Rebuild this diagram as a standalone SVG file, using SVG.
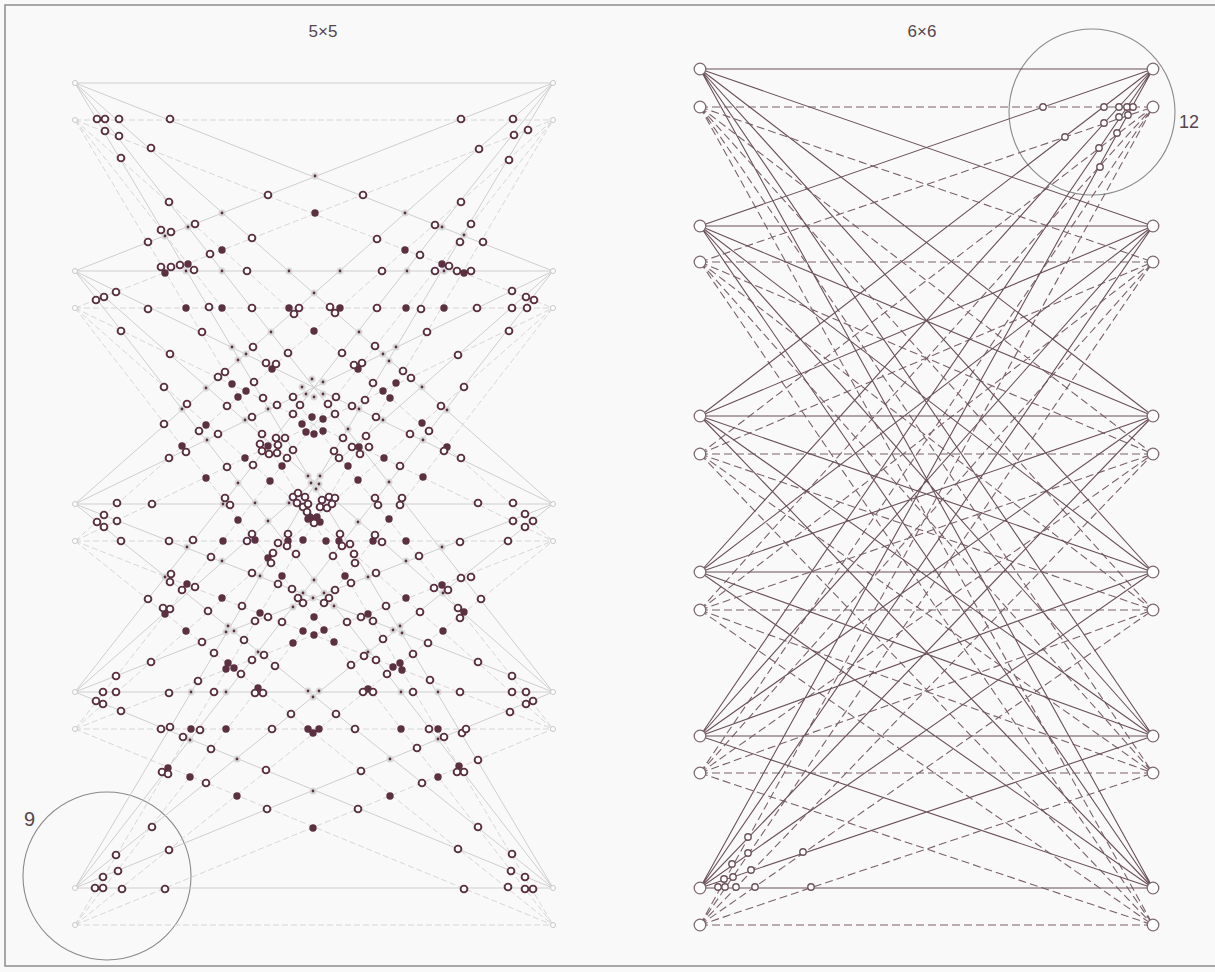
<svg xmlns="http://www.w3.org/2000/svg" xmlns:xlink="http://www.w3.org/1999/xlink" width="1215" height="972" viewBox="0 0 1215 972">
<style>
.lbl{font-family:"Liberation Sans",Arial,sans-serif;fill:#55474c}
.la{fill:none;stroke:#c9c9c9;stroke-width:0.9}
.lb{fill:none;stroke:#d2d2d2;stroke-width:0.9;stroke-dasharray:6 3}
.ra{fill:none;stroke:#6b5159;stroke-width:1.1}
.rb{fill:none;stroke:#7a6268;stroke-width:1.1;stroke-dasharray:8 4}
.n5{fill:#fff;stroke:#c8c8c8;stroke-width:1}
.n6{fill:#fff;stroke:#7d6a70;stroke-width:1.3}
.ring{fill:none;stroke:#8a8a8a;stroke-width:1.1}
</style>
<defs>
<circle id="o" r="3.4" fill="#fff" stroke="#5b3040" stroke-width="1.9"/>
<circle id="q" r="3.2" fill="#fff" stroke="#6b5159" stroke-width="1.4"/>
</defs>
<rect x="0" y="0" width="1215" height="972" fill="#f9f9f9"/>
<rect x="5" y="5" width="1216" height="961" fill="none" stroke="#8c8c8c" stroke-width="1.5"/>
<text class="lbl" x="323" y="37" font-size="17" text-anchor="middle">5×5</text>
<text class="lbl" x="922" y="37" font-size="17" text-anchor="middle">6×6</text>
<text class="lbl" x="24" y="826" font-size="20">9</text>
<text class="lbl" x="1179" y="128" font-size="18">12</text>
<circle class="ring" cx="107" cy="876" r="84"/>
<circle class="ring" cx="1092" cy="112" r="83"/>
<g id="connectors">
<path class="la" d="M75 83L553 83M75 83L553 271M75 83L553 504M75 83L553 692M75 83L553 888M75 271L553 83M75 271L553 271M75 271L553 504M75 271L553 692M75 271L553 888M75 504L553 83M75 504L553 271M75 504L553 504M75 504L553 692M75 504L553 888M75 692L553 83M75 692L553 271M75 692L553 504M75 692L553 692M75 692L553 888M75 888L553 83M75 888L553 271M75 888L553 504M75 888L553 692M75 888L553 888"/>
<path class="lb" d="M75 120L553 120M75 120L553 308M75 120L553 541M75 120L553 729M75 120L553 925M75 308L553 120M75 308L553 308M75 308L553 541M75 308L553 729M75 308L553 925M75 541L553 120M75 541L553 308M75 541L553 541M75 541L553 729M75 541L553 925M75 729L553 120M75 729L553 308M75 729L553 541M75 729L553 729M75 729L553 925M75 925L553 120M75 925L553 308M75 925L553 541M75 925L553 729M75 925L553 925"/>
<path class="rb" d="M700 107L1153 107M700 107L1153 262M700 107L1153 454M700 107L1153 610M700 107L1153 773M700 107L1153 925M700 262L1153 107M700 262L1153 262M700 262L1153 454M700 262L1153 610M700 262L1153 773M700 262L1153 925M700 454L1153 107M700 454L1153 262M700 454L1153 454M700 454L1153 610M700 454L1153 773M700 454L1153 925M700 610L1153 107M700 610L1153 262M700 610L1153 454M700 610L1153 610M700 610L1153 773M700 610L1153 925M700 773L1153 107M700 773L1153 262M700 773L1153 454M700 773L1153 610M700 773L1153 773M700 773L1153 925M700 925L1153 107M700 925L1153 262M700 925L1153 454M700 925L1153 610M700 925L1153 773M700 925L1153 925"/>
<path class="ra" d="M700 69L1153 69M700 69L1153 226M700 69L1153 416M700 69L1153 572M700 69L1153 736M700 69L1153 888M700 226L1153 69M700 226L1153 226M700 226L1153 416M700 226L1153 572M700 226L1153 736M700 226L1153 888M700 416L1153 69M700 416L1153 226M700 416L1153 416M700 416L1153 572M700 416L1153 736M700 416L1153 888M700 572L1153 69M700 572L1153 226M700 572L1153 416M700 572L1153 572M700 572L1153 736M700 572L1153 888M700 736L1153 69M700 736L1153 226M700 736L1153 416M700 736L1153 572M700 736L1153 736M700 736L1153 888M700 888L1153 69M700 888L1153 226M700 888L1153 416M700 888L1153 572M700 888L1153 736M700 888L1153 888"/>
</g>
<g id="crossings5">
<path fill="none" stroke="#d8d8d8" stroke-width="7" stroke-linecap="round" d="M315 176h0M222 213h0M405 213h0M188 227h0M165 236h0M442 227h0M464 235h0M186 271h0M222 271h0M289 271h0M340 271h0M407 271h0M444 271h0M314 293h0M271 332h0M359 332h0M232 347h0M246 354h0M238 360h0M206 388h0M182 409h0M268 409h0M245 420h0M207 440h0M238 483h0M223 504h0M255 503h0M289 503h0M268 521h0M396 347h0M383 354h0M389 361h0M422 387h0M312 379h0M323 382h0M302 387h0M306 394h0M314 397h0M323 394h0M359 409h0M447 410h0M383 420h0M348 429h0M423 440h0M389 482h0M308 476h0M320 476h0M311 483h0M319 484h0M316 489h0M358 522h0M187 547h0M222 561h0M165 577h0M260 576h0M293 607h0M228 626h0M226 632h0M234 631h0M258 652h0M191 692h0M226 692h0M406 561h0M442 547h0M314 580h0M368 577h0M303 593h0M313 598h0M324 593h0M334 606h0M443 593h0M393 630h0M400 626h0M402 633h0M368 652h0M308 691h0M319 691h0M313 697h0M401 692h0M438 692h0M190 740h0M237 759h0M438 739h0M390 759h0M313 791h0"/>
<path fill="none" stroke="#5b3040" stroke-width="2.8" stroke-linecap="round" d="M315 176h0M222 213h0M405 213h0M188 227h0M165 236h0M442 227h0M464 235h0M186 271h0M222 271h0M289 271h0M340 271h0M407 271h0M444 271h0M314 293h0M271 332h0M359 332h0M232 347h0M246 354h0M238 360h0M206 388h0M182 409h0M268 409h0M245 420h0M207 440h0M238 483h0M223 504h0M255 503h0M289 503h0M268 521h0M396 347h0M383 354h0M389 361h0M422 387h0M312 379h0M323 382h0M302 387h0M306 394h0M314 397h0M323 394h0M359 409h0M447 410h0M383 420h0M348 429h0M423 440h0M389 482h0M308 476h0M320 476h0M311 483h0M319 484h0M316 489h0M358 522h0M187 547h0M222 561h0M165 577h0M260 576h0M293 607h0M228 626h0M226 632h0M234 631h0M258 652h0M191 692h0M226 692h0M406 561h0M442 547h0M314 580h0M368 577h0M303 593h0M313 598h0M324 593h0M334 606h0M443 593h0M393 630h0M400 626h0M402 633h0M368 652h0M308 691h0M319 691h0M313 697h0M401 692h0M438 692h0M190 740h0M237 759h0M438 739h0M390 759h0M313 791h0"/>
<path fill="none" stroke="#5b3040" stroke-width="7.4" stroke-linecap="round" d="M315 213h0M222 250h0M405 250h0M165 273h0M188 264h0M442 264h0M464 273h0M186 308h0M222 308h0M289 308h0M340 308h0M406 308h0M444 308h0M314 331h0M272 369h0M232 384h0M246 391h0M238 397h0M302 424h0M206 425h0M268 446h0M182 446h0M245 458h0M282 466h0M206 478h0M270 481h0M238 520h0M358 369h0M396 383h0M383 391h0M390 398h0M312 417h0M323 419h0M306 432h0M314 434h0M323 431h0M422 423h0M359 447h0M447 447h0M384 458h0M348 466h0M423 477h0M358 480h0M389 519h0M310 517h0M313 519h0M317 517h0M320 522h0M308 519h0M223 541h0M255 540h0M288 541h0M303 540h0M268 558h0M282 576h0M187 584h0M222 598h0M165 614h0M260 613h0M186 631h0M303 631h0M293 643h0M228 663h0M226 669h0M234 668h0M258 688h0M191 729h0M226 729h0M326 541h0M339 541h0M373 541h0M406 541h0M345 576h0M406 598h0M442 585h0M464 612h0M314 617h0M368 614h0M443 631h0M314 635h0M324 630h0M334 642h0M393 667h0M400 663h0M402 670h0M368 689h0M308 729h0M313 733h0M319 729h0M401 729h0M438 729h0M168 768h0M190 777h0M237 796h0M459 766h0M438 777h0M390 796h0M313 828h0"/>
<use href="#o" x="97" y="119"/><use href="#o" x="105" y="119"/><use href="#o" x="119" y="119"/><use href="#o" x="170" y="119"/><use href="#o" x="461" y="119"/><use href="#o" x="513" y="119"/>
<use href="#o" x="105" y="131"/><use href="#o" x="119" y="136"/><use href="#o" x="528" y="130"/><use href="#o" x="514" y="135"/>
<use href="#o" x="151" y="148"/><use href="#o" x="479" y="149"/><use href="#o" x="121" y="158"/><use href="#o" x="509" y="160"/>
<use href="#o" x="268" y="195"/><use href="#o" x="363" y="195"/><use href="#o" x="169" y="202"/><use href="#o" x="461" y="202"/>
<use href="#o" x="195" y="224"/><use href="#o" x="161" y="230"/><use href="#o" x="171" y="232"/><use href="#o" x="435" y="225"/><use href="#o" x="471" y="224"/><use href="#o" x="460" y="242"/><use href="#o" x="483" y="242"/>
<use href="#o" x="148" y="242"/><use href="#o" x="252" y="238"/><use href="#o" x="377" y="239"/><use href="#o" x="210" y="254"/><use href="#o" x="420" y="255"/>
<use href="#o" x="161" y="267"/><use href="#o" x="171" y="267"/><use href="#o" x="180" y="265"/><use href="#o" x="194" y="270"/><use href="#o" x="247" y="271"/><use href="#o" x="382" y="271"/><use href="#o" x="435" y="271"/><use href="#o" x="449" y="266"/><use href="#o" x="457" y="271"/><use href="#o" x="471" y="271"/>
<use href="#o" x="116" y="292"/><use href="#o" x="104" y="297"/><use href="#o" x="96" y="300"/><use href="#o" x="512" y="291"/><use href="#o" x="526" y="297"/><use href="#o" x="534" y="300"/>
<use href="#o" x="148" y="309"/><use href="#o" x="209" y="307"/><use href="#o" x="252" y="308"/><use href="#o" x="299" y="308"/><use href="#o" x="294" y="314"/><use href="#o" x="330" y="307"/><use href="#o" x="335" y="313"/><use href="#o" x="377" y="308"/><use href="#o" x="421" y="309"/><use href="#o" x="477" y="308"/><use href="#o" x="512" y="308"/><use href="#o" x="527" y="308"/>
<use href="#o" x="121" y="331"/><use href="#o" x="202" y="332"/><use href="#o" x="427" y="332"/><use href="#o" x="509" y="331"/>
<use href="#o" x="253" y="347"/><use href="#o" x="170" y="354"/><use href="#o" x="288" y="353"/><use href="#o" x="266" y="363"/><use href="#o" x="276" y="364"/>
<use href="#o" x="225" y="372"/><use href="#o" x="218" y="377"/><use href="#o" x="254" y="382"/><use href="#o" x="164" y="387"/><use href="#o" x="263" y="398"/><use href="#o" x="293" y="397"/><use href="#o" x="187" y="404"/><use href="#o" x="227" y="406"/><use href="#o" x="277" y="405"/><use href="#o" x="300" y="405"/><use href="#o" x="293" y="414"/><use href="#o" x="252" y="417"/>
<use href="#o" x="164" y="424"/><use href="#o" x="199" y="431"/><use href="#o" x="218" y="434"/>
<use href="#o" x="262" y="434"/><use href="#o" x="276" y="438"/><use href="#o" x="285" y="438"/><use href="#o" x="260" y="444"/><use href="#o" x="278" y="445"/><use href="#o" x="262" y="451"/><use href="#o" x="269" y="454"/><use href="#o" x="277" y="453"/><use href="#o" x="293" y="450"/><use href="#o" x="186" y="452"/>
<use href="#o" x="169" y="458"/><use href="#o" x="287" y="458"/><use href="#o" x="227" y="467"/><use href="#o" x="253" y="465"/>
<use href="#o" x="117" y="503"/><use href="#o" x="152" y="504"/><use href="#o" x="225" y="498"/><use href="#o" x="230" y="505"/>
<use href="#o" x="104" y="515"/><use href="#o" x="97" y="522"/><use href="#o" x="104" y="527"/><use href="#o" x="117" y="521"/>
<use href="#o" x="375" y="346"/><use href="#o" x="342" y="353"/><use href="#o" x="458" y="355"/><use href="#o" x="354" y="365"/><use href="#o" x="362" y="363"/>
<use href="#o" x="403" y="371"/><use href="#o" x="411" y="378"/><use href="#o" x="373" y="383"/><use href="#o" x="464" y="387"/><use href="#o" x="365" y="400"/><use href="#o" x="336" y="397"/>
<use href="#o" x="328" y="404"/><use href="#o" x="335" y="414"/><use href="#o" x="352" y="406"/><use href="#o" x="441" y="406"/><use href="#o" x="376" y="417"/>
<use href="#o" x="429" y="431"/><use href="#o" x="410" y="434"/><use href="#o" x="343" y="438"/><use href="#o" x="366" y="436"/>
<use href="#o" x="334" y="451"/><use href="#o" x="339" y="458"/><use href="#o" x="352" y="447"/><use href="#o" x="369" y="447"/><use href="#o" x="360" y="454"/><use href="#o" x="444" y="451"/><use href="#o" x="461" y="458"/><use href="#o" x="400" y="466"/>
<use href="#o" x="375" y="498"/><use href="#o" x="378" y="505"/><use href="#o" x="402" y="498"/><use href="#o" x="400" y="505"/><use href="#o" x="478" y="503"/><use href="#o" x="513" y="503"/>
<use href="#o" x="525" y="514"/><use href="#o" x="533" y="521"/><use href="#o" x="513" y="521"/><use href="#o" x="525" y="527"/>
<use href="#o" x="293" y="497"/><use href="#o" x="298" y="493"/><use href="#o" x="305" y="497"/><use href="#o" x="297" y="503"/><use href="#o" x="303" y="507"/><use href="#o" x="308" y="504"/><use href="#o" x="307" y="512"/><use href="#o" x="314" y="523"/><use href="#o" x="322" y="500"/><use href="#o" x="329" y="497"/><use href="#o" x="335" y="498"/><use href="#o" x="320" y="507"/><use href="#o" x="327" y="508"/><use href="#o" x="332" y="504"/>
<use href="#o" x="121" y="541"/><use href="#o" x="169" y="541"/><use href="#o" x="193" y="540"/><use href="#o" x="247" y="541"/><use href="#o" x="252" y="534"/><use href="#o" x="278" y="543"/><use href="#o" x="288" y="534"/><use href="#o" x="287" y="546"/>
<use href="#o" x="211" y="557"/><use href="#o" x="273" y="553"/><use href="#o" x="271" y="563"/><use href="#o" x="296" y="554"/>
<use href="#o" x="171" y="574"/><use href="#o" x="170" y="582"/><use href="#o" x="252" y="573"/><use href="#o" x="182" y="590"/><use href="#o" x="195" y="587"/><use href="#o" x="278" y="584"/><use href="#o" x="292" y="589"/>
<use href="#o" x="148" y="599"/><use href="#o" x="242" y="606"/><use href="#o" x="298" y="598"/><use href="#o" x="303" y="603"/>
<use href="#o" x="163" y="608"/><use href="#o" x="170" y="609"/><use href="#o" x="208" y="611"/><use href="#o" x="268" y="617"/><use href="#o" x="255" y="621"/><use href="#o" x="282" y="622"/>
<use href="#o" x="202" y="642"/><use href="#o" x="244" y="640"/><use href="#o" x="214" y="653"/><use href="#o" x="264" y="655"/><use href="#o" x="252" y="660"/><use href="#o" x="151" y="662"/><use href="#o" x="241" y="674"/><use href="#o" x="275" y="666"/>
<use href="#o" x="116" y="676"/><use href="#o" x="198" y="681"/>
<use href="#o" x="103" y="692"/><use href="#o" x="116" y="692"/><use href="#o" x="169" y="693"/><use href="#o" x="214" y="692"/><use href="#o" x="255" y="693"/><use href="#o" x="263" y="693"/>
<use href="#o" x="96" y="701"/><use href="#o" x="103" y="704"/><use href="#o" x="121" y="711"/><use href="#o" x="291" y="714"/>
<use href="#o" x="161" y="729"/><use href="#o" x="170" y="727"/><use href="#o" x="200" y="730"/><use href="#o" x="272" y="729"/><use href="#o" x="183" y="737"/>
<use href="#o" x="340" y="534"/><use href="#o" x="342" y="546"/><use href="#o" x="350" y="544"/><use href="#o" x="375" y="535"/><use href="#o" x="382" y="542"/><use href="#o" x="460" y="542"/><use href="#o" x="508" y="541"/>
<use href="#o" x="333" y="556"/><use href="#o" x="354" y="554"/><use href="#o" x="355" y="563"/><use href="#o" x="419" y="556"/>
<use href="#o" x="351" y="583"/><use href="#o" x="376" y="573"/><use href="#o" x="461" y="578"/><use href="#o" x="471" y="577"/>
<use href="#o" x="324" y="603"/><use href="#o" x="329" y="598"/><use href="#o" x="335" y="590"/><use href="#o" x="434" y="588"/><use href="#o" x="448" y="590"/><use href="#o" x="481" y="599"/>
<use href="#o" x="386" y="606"/><use href="#o" x="420" y="612"/><use href="#o" x="458" y="608"/><use href="#o" x="460" y="618"/>
<use href="#o" x="347" y="622"/><use href="#o" x="361" y="617"/><use href="#o" x="373" y="621"/><use href="#o" x="383" y="639"/><use href="#o" x="428" y="643"/>
<use href="#o" x="364" y="656"/><use href="#o" x="376" y="660"/><use href="#o" x="413" y="654"/><use href="#o" x="478" y="662"/><use href="#o" x="351" y="665"/><use href="#o" x="387" y="674"/><use href="#o" x="430" y="680"/><use href="#o" x="512" y="676"/>
<use href="#o" x="363" y="692"/><use href="#o" x="373" y="692"/><use href="#o" x="413" y="692"/><use href="#o" x="460" y="692"/><use href="#o" x="512" y="692"/><use href="#o" x="526" y="692"/><use href="#o" x="526" y="704"/><use href="#o" x="533" y="701"/><use href="#o" x="510" y="712"/><use href="#o" x="336" y="714"/>
<use href="#o" x="355" y="729"/><use href="#o" x="429" y="729"/><use href="#o" x="444" y="737"/><use href="#o" x="462" y="733"/><use href="#o" x="466" y="729"/>
<use href="#o" x="211" y="749"/><use href="#o" x="266" y="770"/><use href="#o" x="162" y="772"/><use href="#o" x="168" y="774"/><use href="#o" x="206" y="783"/><use href="#o" x="267" y="809"/>
<use href="#o" x="152" y="827"/><use href="#o" x="169" y="850"/><use href="#o" x="116" y="855"/><use href="#o" x="118" y="871"/><use href="#o" x="103" y="877"/><use href="#o" x="95" y="888"/><use href="#o" x="103" y="888"/><use href="#o" x="122" y="889"/><use href="#o" x="165" y="889"/>
<use href="#o" x="417" y="748"/><use href="#o" x="478" y="760"/><use href="#o" x="457" y="772"/><use href="#o" x="464" y="772"/><use href="#o" x="361" y="771"/><use href="#o" x="422" y="783"/><use href="#o" x="358" y="809"/><use href="#o" x="478" y="827"/><use href="#o" x="458" y="849"/><use href="#o" x="512" y="854"/><use href="#o" x="511" y="871"/><use href="#o" x="525" y="877"/><use href="#o" x="464" y="889"/><use href="#o" x="508" y="887"/><use href="#o" x="525" y="889"/><use href="#o" x="533" y="889"/>
</g>
<g id="crossings6">
<use href="#q" x="1043" y="107"/><use href="#q" x="1104" y="107"/><use href="#q" x="1119" y="107"/><use href="#q" x="1127" y="107"/><use href="#q" x="1133" y="107"/><use href="#q" x="1128" y="115"/><use href="#q" x="1119" y="117"/><use href="#q" x="1104" y="123"/><use href="#q" x="1065" y="137"/><use href="#q" x="1117" y="133"/><use href="#q" x="1099" y="148"/><use href="#q" x="1100" y="167"/>
<use href="#q" x="748" y="837"/><use href="#q" x="748" y="853"/><use href="#q" x="732" y="864"/><use href="#q" x="733" y="877"/><use href="#q" x="751" y="870"/><use href="#q" x="724" y="879"/><use href="#q" x="718" y="887"/><use href="#q" x="725" y="887"/><use href="#q" x="736" y="887"/><use href="#q" x="755" y="887"/><use href="#q" x="803" y="852"/><use href="#q" x="811" y="887"/>
</g>
<g id="n5-l83"><circle class="n5" cx="75" cy="83" r="2.5"/></g>
<g id="n5-l120"><circle class="n5" cx="75" cy="120" r="2.5"/></g>
<g id="n5-l271"><circle class="n5" cx="75" cy="271" r="2.5"/></g>
<g id="n5-l308"><circle class="n5" cx="75" cy="308" r="2.5"/></g>
<g id="n5-l504"><circle class="n5" cx="75" cy="504" r="2.5"/></g>
<g id="n5-l541"><circle class="n5" cx="75" cy="541" r="2.5"/></g>
<g id="n5-l692"><circle class="n5" cx="75" cy="692" r="2.5"/></g>
<g id="n5-l729"><circle class="n5" cx="75" cy="729" r="2.5"/></g>
<g id="n5-l888"><circle class="n5" cx="75" cy="888" r="2.5"/></g>
<g id="n5-l925"><circle class="n5" cx="75" cy="925" r="2.5"/></g>
<g id="n5-r83"><circle class="n5" cx="553" cy="83" r="2.5"/></g>
<g id="n5-r120"><circle class="n5" cx="553" cy="120" r="2.5"/></g>
<g id="n5-r271"><circle class="n5" cx="553" cy="271" r="2.5"/></g>
<g id="n5-r308"><circle class="n5" cx="553" cy="308" r="2.5"/></g>
<g id="n5-r504"><circle class="n5" cx="553" cy="504" r="2.5"/></g>
<g id="n5-r541"><circle class="n5" cx="553" cy="541" r="2.5"/></g>
<g id="n5-r692"><circle class="n5" cx="553" cy="692" r="2.5"/></g>
<g id="n5-r729"><circle class="n5" cx="553" cy="729" r="2.5"/></g>
<g id="n5-r888"><circle class="n5" cx="553" cy="888" r="2.5"/></g>
<g id="n5-r925"><circle class="n5" cx="553" cy="925" r="2.5"/></g>
<g id="n6-l69"><circle class="n6" cx="700" cy="69" r="5.8"/></g>
<g id="n6-l107"><circle class="n6" cx="700" cy="107" r="5.8"/></g>
<g id="n6-l226"><circle class="n6" cx="700" cy="226" r="5.8"/></g>
<g id="n6-l262"><circle class="n6" cx="700" cy="262" r="5.8"/></g>
<g id="n6-l416"><circle class="n6" cx="700" cy="416" r="5.8"/></g>
<g id="n6-l454"><circle class="n6" cx="700" cy="454" r="5.8"/></g>
<g id="n6-l572"><circle class="n6" cx="700" cy="572" r="5.8"/></g>
<g id="n6-l610"><circle class="n6" cx="700" cy="610" r="5.8"/></g>
<g id="n6-l736"><circle class="n6" cx="700" cy="736" r="5.8"/></g>
<g id="n6-l773"><circle class="n6" cx="700" cy="773" r="5.8"/></g>
<g id="n6-l888"><circle class="n6" cx="700" cy="888" r="5.8"/></g>
<g id="n6-l925"><circle class="n6" cx="700" cy="925" r="5.8"/></g>
<g id="n6-r69"><circle class="n6" cx="1153" cy="69" r="5.8"/></g>
<g id="n6-r107"><circle class="n6" cx="1153" cy="107" r="5.8"/></g>
<g id="n6-r226"><circle class="n6" cx="1153" cy="226" r="5.8"/></g>
<g id="n6-r262"><circle class="n6" cx="1153" cy="262" r="5.8"/></g>
<g id="n6-r416"><circle class="n6" cx="1153" cy="416" r="5.8"/></g>
<g id="n6-r454"><circle class="n6" cx="1153" cy="454" r="5.8"/></g>
<g id="n6-r572"><circle class="n6" cx="1153" cy="572" r="5.8"/></g>
<g id="n6-r610"><circle class="n6" cx="1153" cy="610" r="5.8"/></g>
<g id="n6-r736"><circle class="n6" cx="1153" cy="736" r="5.8"/></g>
<g id="n6-r773"><circle class="n6" cx="1153" cy="773" r="5.8"/></g>
<g id="n6-r888"><circle class="n6" cx="1153" cy="888" r="5.8"/></g>
<g id="n6-r925"><circle class="n6" cx="1153" cy="925" r="5.8"/></g>
</svg>
